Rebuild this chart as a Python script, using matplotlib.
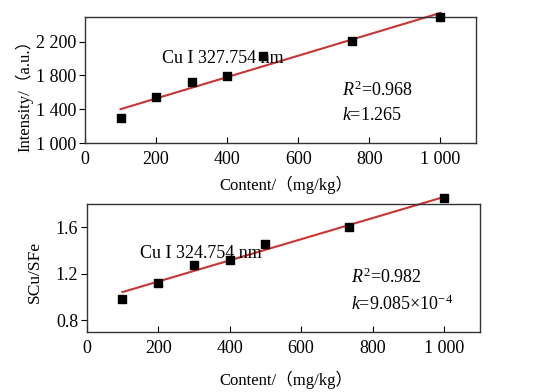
import matplotlib
matplotlib.use("Agg")
import matplotlib.pyplot as plt
import numpy as np

plt.rcParams['font.family'] = ['Liberation Serif', 'Noto Sans CJK SC', 'DejaVu Sans']
plt.rcParams['mathtext.fontset'] = 'custom'
plt.rcParams['mathtext.rm'] = 'Liberation Serif'
plt.rcParams['mathtext.it'] = 'Liberation Serif:italic'

# Top panel data
content_top = [100, 200, 300, 400, 500, 750, 1000]
intensity = [1300, 1540, 1718, 1793, 2030, 2212, 2490]
slope_top = 1.265
intercept_top = 1273.5

# Bottom panel data
content_bot = [100, 200, 300, 400, 500, 735, 1000]
ratio = [0.983, 1.125, 1.273, 1.320, 1.456, 1.600, 1.850]
slope_bot = 9.085e-4
intercept_bot = 0.952

xticks = [0, 200, 400, 600, 800, 1000]
xticklabels = ['0', '200', '400', '600', '800', '1 000']
yticks_top = [1000, 1400, 1800, 2200]
yticklabels_top = ['1 000', '1 400', '1 800', '2 200']
yticks_bot = [0.8, 1.2, 1.6]
yticklabels_bot = ['0.8', '1.2', '1.6']

red = '#cc3333'
fs = 13

fig = plt.figure(figsize=(5.54, 3.92), dpi=100)
ax1 = fig.add_axes([0.1534, 0.6352, 0.7058, 0.3214])
ax2 = fig.add_axes([0.1565, 0.1531, 0.7094, 0.3265])

for ax in (ax1, ax2):
    for s in ax.spines.values():
        s.set_linewidth(1.0)
        s.set_color('#333333')
    ax.set_xlim(0, 1100)
    ax.set_xticks(xticks)
    ax.set_xticklabels(xticklabels, fontsize=fs)
    ax.tick_params(axis='x', direction='in', length=4, pad=6)
    ax.tick_params(axis='y', direction='out', length=4, pad=2, labelsize=fs)

# Top
xl = np.array([100, 1000])
ax1.plot(xl, intercept_top + slope_top * xl, color=red, lw=1.5, clip_on=False, zorder=2)
ax1.scatter(content_top, intensity, marker='s', s=28, color='black', zorder=3, clip_on=False)
ax1.set_ylim(1000, 2490)
ax1.set_yticks(yticks_top)
ax1.set_yticklabels(yticklabels_top, fontsize=fs)
ax1.text(216, 2000, 'Cu I 327.754 nm', fontsize=fs, va='center', ha='left')
ax1.text(722, 1623, r'$R^2$=0.968', fontsize=fs, va='center', ha='left')
ax1.text(722, 1320, r'$k$=1.265', fontsize=fs, va='center', ha='left')
ax1.set_ylabel('Intensity/（a.u.）', fontsize=12)
ax1.yaxis.set_label_coords(-0.133, 0.405)
ax1.set_xlabel('Content/（mg/kg）', fontsize=12)
ax1.xaxis.set_label_coords(0.514, -0.26)

# Bottom
ax2.plot(xl, intercept_bot + slope_bot * xl, color=red, lw=1.5, clip_on=False, zorder=2)
ax2.scatter(content_bot, ratio, marker='s', s=28, color='black', zorder=3, clip_on=False)
ax2.set_ylim(0.7, 1.8)
ax2.set_yticks(yticks_bot)
ax2.set_yticklabels(yticklabels_bot, fontsize=fs)
ax2.text(149, 1.374, 'Cu I 324.754 nm', fontsize=fs, va='center', ha='left')
ax2.text(740, 1.17, r'$R^2$=0.982', fontsize=fs, va='center', ha='left')
ax2.text(740, 0.94, r'$k$=9.085×10$^{-4}$', fontsize=fs, va='center', ha='left')
ax2.set_ylabel('SCu/SFe', fontsize=12.5)
ax2.yaxis.set_label_coords(-0.111, 0.47)
ax2.set_xlabel('Content/（mg/kg）', fontsize=12)
ax2.xaxis.set_label_coords(0.507, -0.30)

fig.savefig('out.png', dpi=100)
